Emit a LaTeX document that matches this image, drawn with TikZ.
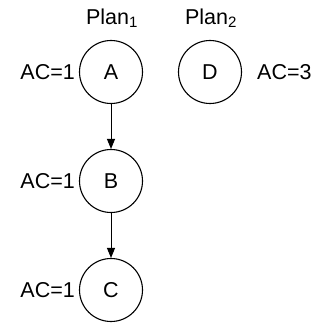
\documentclass[tikz,border=0pt]{standalone}
\usepackage{fontspec}
\setmainfont{Liberation Sans}
\usetikzlibrary{arrows.meta}
\begin{document}
\begin{tikzpicture}[x=1pt,y=1pt,
  st/.style={circle,draw,line width=1.1pt,minimum size=63pt,inner sep=0pt,font=\fontsize{21.5}{25}\selectfont},
  lab/.style={inner sep=0pt,font=\fontsize{21.5}{25}\selectfont},
  arr/.style={line width=1pt,-{Triangle[length=10pt,width=8pt]}}]
\useasboundingbox (0,0) rectangle (323,-326);
\node[st] (A) at (111,-72) {A};
\node[st] (D) at (210,-72) {D};
\node[st] (B) at (111,-181) {B};
\node[st] (C) at (111,-290) {C};
\node[lab,anchor=east] (la) at (75,-72) {AC=1};
\node[lab,anchor=east] (lb) at (75,-181) {AC=1};
\node[lab,anchor=east] (lc) at (75,-290) {AC=1};
\node[lab,anchor=west] (ld) at (257,-72) {AC=3};
\node[lab] (p1) at (112,-18) {Plan\textsubscript{1}};
\node[lab] (p2) at (211,-18) {Plan\textsubscript{2}};
\draw[arr] (A) -- (B);
\draw[arr] (B) -- (C);
\end{tikzpicture}
\end{document}
